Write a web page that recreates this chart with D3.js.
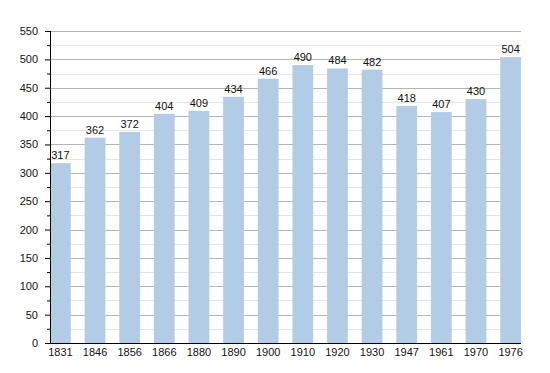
<!DOCTYPE html>
<html>
<head>
<meta charset="utf-8">
<script src="https://cdn.jsdelivr.net/npm/d3@7"></script>
<style>
  body { margin: 0; background: #fff; }
  text { font-family: "Liberation Sans", Arial, sans-serif; }
</style>
</head>
<body>
<div id="chart"></div>
<script>
// data
var years = ["1831","1846","1856","1866","1880","1890","1900","1910","1920","1930","1947","1961","1970","1976"];
var population = [317, 362, 372, 404, 409, 434, 466, 490, 484, 482, 418, 407, 430, 504];
var yTicks = [0, 50, 100, 150, 200, 250, 300, 350, 400, 450, 500, 550];

var width = 550, height = 373;
var margin = {top: 31, right: 29, bottom: 30, left: 50};

var svg = d3.select("#chart")
  .append("svg")
    .attr("width", width)
    .attr("height", height);

var x = d3.scaleBand()
  .domain(years)
  .range([margin.left, width - margin.right])
  .paddingInner(0.4)
  .paddingOuter(0);

var y = d3.scaleLinear()
  .domain([0, 550])
  .range([height - margin.bottom, margin.top]);

// minor grid lines
svg.append("g")
  .selectAll("line")
  .data(d3.range(25, 550, 50))
  .enter()
  .append("line")
    .attr("x1", margin.left)
    .attr("x2", width - margin.right)
    .attr("y1", function(d) { return Math.round(y(d)) + 0.5; })
    .attr("y2", function(d) { return Math.round(y(d)) + 0.5; })
    .attr("stroke", "#e4e4e4");

// major grid lines
svg.append("g")
  .selectAll("line")
  .data(yTicks.slice(1))
  .enter()
  .append("line")
    .attr("x1", margin.left)
    .attr("x2", width - margin.right)
    .attr("y1", function(d) { return Math.round(y(d)) + 0.5; })
    .attr("y2", function(d) { return Math.round(y(d)) + 0.5; })
    .attr("stroke", "#b4b4b4");

// bars
svg.append("g")
  .selectAll("rect")
  .data(population)
  .enter()
  .append("rect")
    .attr("x", function(d, i) { return x(years[i]); })
    .attr("y", function(d) { return y(d); })
    .attr("width", x.bandwidth())
    .attr("height", function(d) { return y(0) - y(d); })
    .attr("fill", "#b3cce6");

// value labels
svg.append("g")
  .selectAll("text")
  .data(population)
  .enter()
  .append("text")
    .attr("x", function(d, i) { return x(years[i]) + x.bandwidth() / 2; })
    .attr("y", function(d) { return y(d) - 4; })
    .attr("text-anchor", "middle")
    .style("font-size", "11px")
    .attr("fill", "#111")
    .text(function(d) { return d; });

// y axis (minor ticks)
svg.append("g")
  .attr("transform", "translate(" + margin.left + ",0)")
  .call(d3.axisLeft(y).tickValues(d3.range(25, 550, 50)).tickSize(3).tickFormat(""))
  .call(function(g) { g.select(".domain").remove(); });

// y axis
svg.append("g")
  .attr("transform", "translate(" + margin.left + ",0)")
  .call(d3.axisLeft(y).tickValues(yTicks).tickSize(5).tickPadding(7))
  .call(function(g) {
    g.selectAll("text").style("font-size", "11px").attr("fill", "#111");
    g.select(".domain").attr("d", "M0.5," + y(550) + "V" + y(0));
  });

// x axis
svg.append("g")
  .attr("transform", "translate(0," + (Math.round(y(0)) + 0.5) + ")")
  .call(d3.axisBottom(x).tickSize(0).tickPadding(5))
  .call(function(g) {
    g.selectAll("text").style("font-size", "11px").attr("fill", "#111");
    g.select(".domain").attr("d", "M" + margin.left + ",0H" + (width - margin.right));
  });
</script>
</body>
</html>
